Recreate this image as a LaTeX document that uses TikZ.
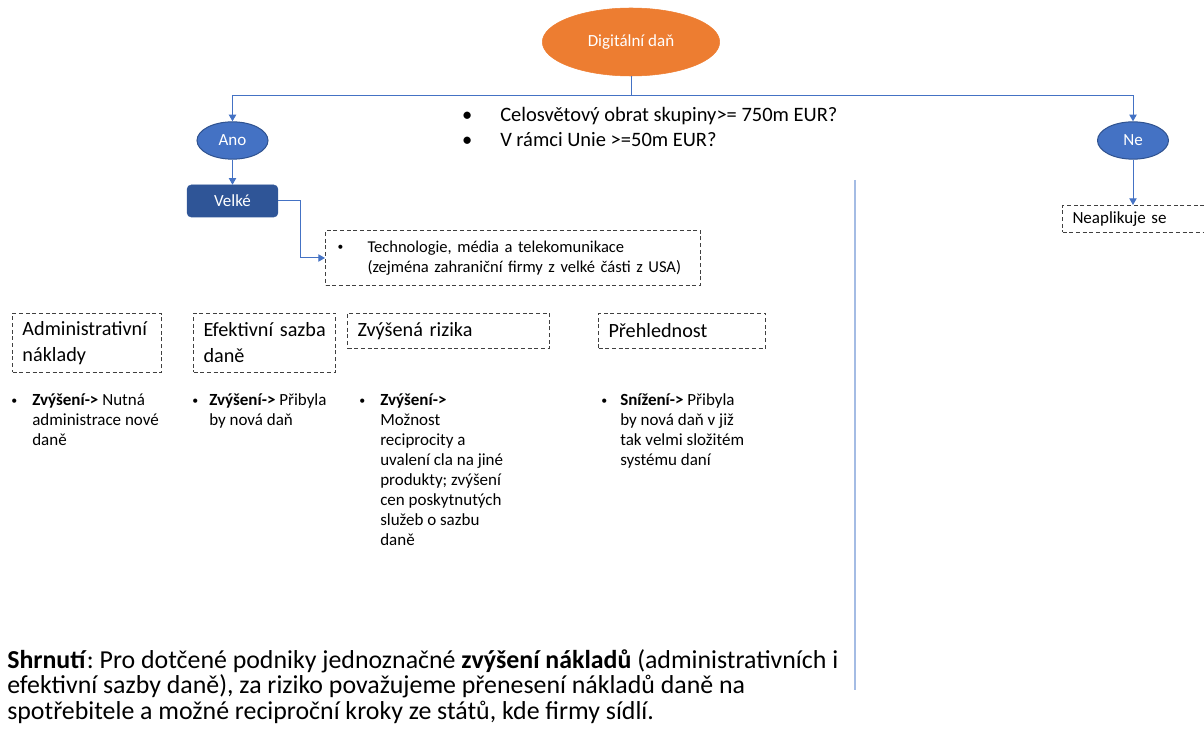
\documentclass[tikz,border=0pt]{standalone}
\usepackage{fontspec}
\usepackage{graphicx}
\setmainfont{Carlito}
\usetikzlibrary{shapes.geometric,arrows.meta}
\frenchspacing

\definecolor{ddorange}{HTML}{ED7D31}
\definecolor{ddblue}{HTML}{4472C4}
\definecolor{ddblueedge}{HTML}{2F528F}
\definecolor{dddark}{HTML}{2F5597}
\definecolor{ddline}{HTML}{4472C4}
\definecolor{dddivider}{HTML}{A4BCE4}
\definecolor{ddgray}{HTML}{404040}

% font sizes
\newcommand\ddsmall{\fontsize{12.75pt}{15pt}\selectfont}
\newcommand\ddtech{\fontsize{12.4pt}{15pt}\selectfont}
\newcommand\ddcrit{\fontsize{15.35pt}{18.75pt}\selectfont}
\newcommand\ddhead{\fontsize{15.15pt}{19.5pt}\selectfont}
\newcommand\ddsum{\fontsize{19.4pt}{19.2pt}\selectfont}
% bullets centred on the line start, text after a gap
\newcommand\ddbullet[1]{\makebox[0pt]{\textbullet}\hspace*{#1}}
\newcommand\ddsbullet[1]{\makebox[0pt]{\raisebox{0.1em}{\scalebox{0.7}{\textbullet}}}\hspace*{#1}}

\tikzset{
  conn/.style={draw=ddline, line width=0.75pt},
  arr/.style={conn, -{Triangle[length=5pt,width=5.5pt]}},
  decision/.style={ellipse, fill=ddblue, draw=ddblueedge, line width=0.75pt,
    minimum width=53.25pt, minimum height=28pt, inner sep=0pt,
    text=white, font=\ddsmall},
  dashbox/.style={draw=ddgray, line width=0.75pt, dash pattern=on 3pt off 2pt,
    anchor=north west, align=left, inner ysep=0pt},
  plain/.style={inner sep=0pt, anchor=base west, text=black},
}

\begin{document}
\begin{tikzpicture}[x=0.75pt,y=-0.75pt]
\useasboundingbox (0,0) rectangle (1204,745);

% decision flow
\node[ellipse, fill=ddorange, draw=ddorange, minimum width=133pt,
  minimum height=51pt, text=white, font=\ddsmall] (dig) at (631,42) {Digitální daň};
\coordinate (split) at (631,96);
\node[decision] (ano) at (232.5,140.5) {Ano};
\node[decision] (ne) at (1133,140.5) {Ne};
\node[rectangle, rounded corners=3pt, fill=dddark, draw=dddark,
  minimum width=68pt, minimum height=24pt, text=white, font=\ddsmall]
  (velke) at (232.5,201) {Velké};

\node[dashbox, font=\ddtech, minimum width=281.25pt, minimum height=41.25pt,
  inner xsep=11.25pt, text width=258.75pt] (tech) at (325,230)
  {\ddsbullet{20.25pt}\mbox{Technologie, média a telekomunikace}\\
   \hspace*{20.25pt}\mbox{(zejména zahraniční firmy z velké části z USA)}};

\node[dashbox, font=\ddsmall, minimum width=108pt, minimum height=20.25pt,
  inner xsep=7.5pt, text width=93pt] (neapl) at (1062,205) {Neaplikuje se};

\draw[conn] (dig.south) -- (split);
\draw[arr] (split) -| (ano.north);
\draw[arr] (split) -| (ne.north);
\draw[arr] (ano.south) -- (velke.north);
\draw[arr] (velke.east) -- ++(22,0) |- (tech.west);
\draw[arr] (ne.south) -- (ne.south |- neapl.north);

% thresholds
\node[plain, font=\ddcrit] (crit) at (467,122)
  {\parbox[t]{300pt}{\raggedright
   \ddbullet{24.75pt}Celosvětový obrat skupiny>= 750m EUR?\\
   \ddbullet{24.75pt}V rámci Unie >=50m EUR?}};

% impact categories
\node[dashbox, font=\ddhead, minimum width=111.75pt, minimum height=44.25pt,
  inner xsep=7.5pt, text width=96.75pt] (h1) at (12,313)
  {\mbox{Administrativní}\\náklady};
\node[dashbox, font=\ddhead, minimum width=106.5pt, minimum height=44.25pt,
  inner xsep=7.5pt, text width=91.5pt] (h2) at (193,313)
  {\mbox{Efektivní sazba}\\daně};
\node[dashbox, font=\ddhead, minimum width=151.5pt, minimum height=26.25pt,
  inner xsep=7.5pt, text width=136.5pt] (h3) at (347,313)
  {Zvýšená rizika};
\node[dashbox, font=\ddhead, minimum width=125.25pt, minimum height=26.25pt,
  inner xsep=7.5pt, text width=110.25pt] (h4) at (598,313)
  {Přehlednost};

\node[plain, font=\ddsmall] (c1) at (14,406)
  {\parbox[t]{130pt}{\raggedright
   \ddsbullet{13.5pt}\textbf{Zvýšení->} Nutná\\
   \hspace*{13.5pt}administrace nové\\
   \hspace*{13.5pt}daně}};
\node[plain, font=\ddsmall] (c2) at (195,406)
  {\parbox[t]{130pt}{\raggedright
   \ddsbullet{10.5pt}\textbf{Zvýšení->} Přibyla\\
   \hspace*{10.5pt}by nová daň}};
\node[plain, font=\ddsmall] (c3) at (362,406)
  {\parbox[t]{130pt}{\raggedright
   \ddsbullet{13.5pt}\textbf{Zvýšení->}\\
   \hspace*{13.5pt}Možnost\\
   \hspace*{13.5pt}reciprocity a\\
   \hspace*{13.5pt}uvalení cla na jiné\\
   \hspace*{13.5pt}produkty; zvýšení\\
   \hspace*{13.5pt}cen poskytnutých\\
   \hspace*{13.5pt}služeb o sazbu\\
   \hspace*{13.5pt}daně}};
\node[plain, font=\ddsmall] (c4) at (604,406)
  {\parbox[t]{130pt}{\raggedright
   \ddsbullet{12pt}\textbf{Snížení->} Přibyla\\
   \hspace*{12pt}by nová daň v již\\
   \hspace*{12pt}tak velmi složitém\\
   \hspace*{12pt}systému daní}};

% summary
\node[plain, font=\ddsum] (summary) at (7,668)
  {\parbox[t]{660pt}{\raggedright
   \textbf{Shrnutí}: Pro dotčené podniky jednoznačné \textbf{zvýšení nákladů} (administrativních i\\
   efektivní sazby daně), za riziko považujeme přenesení nákladů daně na\\
   spotřebitele a možné reciproční kroky ze států, kde firmy sídlí.}};

% divider
\coordinate (divtop) at (855,180);
\coordinate (divbot) at (855,690);
\draw[dddivider, line width=1.2pt] (divtop) -- (divbot);
\end{tikzpicture}
\end{document}
